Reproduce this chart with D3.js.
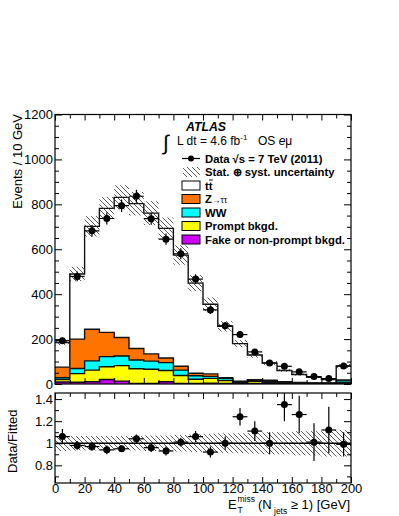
<!DOCTYPE html>
<html>
<head>
<meta charset="utf-8">
<script src="https://cdn.jsdelivr.net/npm/d3@7"></script>
<style>
  body { margin: 0; background: #fff; }
  svg text { font-family: "Liberation Sans", Arial, Helvetica, sans-serif; }
</style>
</head>
<body>
<div id="content"></div>
<script>
// bins of 10 GeV, last bin holds overflow
const binEdges = [0, 10, 20, 30, 40, 50, 60, 70, 80, 90, 100, 110, 120, 130, 140, 150, 160, 170, 180, 190, 200];

// stacked MC contributions per bin (events / 10 GeV)
const ttbar  = [110, 290, 458, 552, 624, 645, 627, 577, 495, 401, 310, 229, 167, 110, 76, 50, 35, 25, 15, 62];
const ztautau = [47, 131, 141, 108, 82, 51, 32, 21, 17, 11, 11, 4, 3, 4, 5, 2, 2, 1, 1, 4];
const ww     = [8, 23, 41, 45, 43, 39, 36, 35, 24, 16, 9, 9, 4, 3, 4, 3, 2, 2, 2, 8];
const prompt = [11, 38, 52, 57, 69, 66, 63, 50, 36, 19, 21, 13, 5, 10, 7, 4, 2, 2, 2, 5];
const fake   = [9, 8, 10, 20, 13, 2, 3, 10, 2, 2, 4, 2, 1, 2, 1, 1, 1, 0, 0, 1];

// data
const dataVals = [193, 479, 682, 737, 794, 836, 736, 645, 580, 467, 330, 259, 220, 143, 94, 79, 54, 33, 24, 80];
const dataErr  = [14, 22, 26, 27, 28, 29, 27, 25, 24, 22, 18, 16, 15, 12, 10, 9, 7, 6, 5, 9];

// relative stat+syst uncertainty on the total
const relUnc = [0.07, 0.065, 0.065, 0.065, 0.065, 0.065, 0.07, 0.07, 0.075, 0.08, 0.085, 0.09, 0.09, 0.095, 0.1, 0.1, 0.11, 0.11, 0.12, 0.12];

// data / fitted
const ratioVals = [1.06, 0.98, 0.97, 0.94, 0.95, 1.04, 0.96, 0.93, 1.01, 1.06, 0.92, 1.00, 1.24, 1.11, 1.00, 1.35, 1.26, 1.01, 1.12, 0.99];
const ratioErr  = [0.07, 0.04, 0.04, 0.04, 0.03, 0.04, 0.04, 0.04, 0.04, 0.05, 0.05, 0.06, 0.08, 0.09, 0.10, 0.15, 0.17, 0.17, 0.21, 0.11];

const xTicks = [0, 20, 40, 60, 80, 100, 120, 140, 160, 180, 200];
const xMinor = [10, 30, 50, 70, 90, 110, 130, 150, 170, 190];
const yTicks = [0, 200, 400, 600, 800, 1000, 1200];
const yMinor = [50, 100, 150, 250, 300, 350, 450, 500, 550, 650, 700, 750, 850, 900, 950, 1050, 1100, 1150];
const rTicks = [0.8, 1, 1.2, 1.4];
const rMinor = [0.7, 0.9, 1.1, 1.3];

const keys = ['fake', 'prompt', 'ww', 'ztautau', 'ttbar'];
const colors = {ttbar: '#ffffff', ztautau: '#ff7300', ww: '#00ffff', prompt: '#ffff00', fake: '#cc00ff'};

const table = dataVals.map((d, i) => ({
    lo: binEdges[i], hi: binEdges[i + 1],
    ttbar: ttbar[i], ztautau: ztautau[i], ww: ww[i], prompt: prompt[i], fake: fake[i],
    data: d, err: dataErr[i], unc: relUnc[i], ratio: ratioVals[i], rerr: ratioErr[i]
}));

const width = 399;
const height = 516;
const left = 55, right = 351;
const topY0 = 114.5, topY1 = 384;
const rY0 = 393, rY1 = 483;

const fig = d3.select('#content')
    .append('svg')
    .attr('width', width)
    .attr('height', height);

const defs = fig.append('defs');
const hatch = defs.append('pattern')
    .attr('id', 'hatch')
    .attr('patternUnits', 'userSpaceOnUse')
    .attr('width', 5)
    .attr('height', 5);
hatch.append('path')
    .attr('d', 'M0,0L5,5M-1,4L1,6M4,-1L6,1')
    .attr('stroke', '#333')
    .attr('stroke-width', 0.8);

defs.append('clipPath').attr('id', 'clipTop')
    .append('rect').attr('x', left).attr('y', topY0).attr('width', right - left).attr('height', topY1 - topY0);
defs.append('clipPath').attr('id', 'clipRatio')
    .append('rect').attr('x', left).attr('y', rY0).attr('width', right - left).attr('height', rY1 - rY0);

const x = d3.scaleLinear().domain([0, 200]).range([left, right]);
const y = d3.scaleLinear().domain([0, 1200]).range([topY1, topY0]);
const yr = d3.scaleLinear().domain([0.64, 1.455]).range([rY1, rY0]);

const stack = d3.stack().keys(keys)(table);

// step helpers
const stepPts = (vals) => vals.flatMap((v, i) => [[binEdges[i], v], [binEdges[i + 1], v]]);
const stepLine = d3.line().x(d => x(d[0])).y(d => y(d[1]));

// ---- top panel ----
const mainG = fig.append('g').attr('clip-path', 'url(#clipTop)');

// draw from the biggest cumulative down so each layer sits on the one below
for (let k = stack.length - 1; k >= 0; k--) {
    const layer = stack[k];
    const tops = layer.map(d => d[1]);
    const area = d3.area()
        .x(d => x(d[0]))
        .y0(y(0))
        .y1(d => y(d[1]));
    mainG.append('path')
        .attr('d', area(stepPts(tops)))
        .attr('fill', colors[layer.key]);
    mainG.append('path')
        .attr('d', stepLine(stepPts(tops)))
        .attr('fill', 'none')
        .attr('stroke', '#111')
        .attr('stroke-width', 1.4);
}

const totals = stack[stack.length - 1].map(d => d[1]);

// uncertainty band
mainG.append('g')
    .selectAll('rect')
    .data(table)
    .join('rect')
    .attr('x', d => x(d.lo))
    .attr('width', d => x(d.hi) - x(d.lo))
    .attr('y', (d, i) => y(totals[i] * (1 + d.unc)))
    .attr('height', (d, i) => y(totals[i] * (1 - d.unc)) - y(totals[i] * (1 + d.unc)))
    .attr('fill', 'url(#hatch)');

// data points
const pts = mainG.append('g');
pts.selectAll('.h')
    .data(table)
    .join('line')
    .attr('x1', d => x(d.lo)).attr('x2', d => x(d.hi))
    .attr('y1', d => y(d.data)).attr('y2', d => y(d.data))
    .attr('stroke', '#000').attr('stroke-width', 1.2);
pts.selectAll('.v')
    .data(table)
    .join('line')
    .attr('x1', d => x((d.lo + d.hi) / 2)).attr('x2', d => x((d.lo + d.hi) / 2))
    .attr('y1', d => y(d.data - d.err)).attr('y2', d => y(d.data + d.err))
    .attr('stroke', '#000').attr('stroke-width', 1.2);
pts.selectAll('circle')
    .data(table)
    .join('circle')
    .attr('cx', d => x((d.lo + d.hi) / 2))
    .attr('cy', d => y(d.data))
    .attr('r', 3.5)
    .attr('fill', '#000');

// ---- ratio panel ----
const rat = fig.append('g').attr('clip-path', 'url(#clipRatio)');
rat.append('g')
    .selectAll('rect')
    .data(table)
    .join('rect')
    .attr('x', d => x(d.lo))
    .attr('width', d => x(d.hi) - x(d.lo))
    .attr('y', d => yr(1 + d.unc))
    .attr('height', d => yr(1 - d.unc) - yr(1 + d.unc))
    .attr('fill', 'url(#hatch)');
rat.append('line')
    .attr('x1', left).attr('x2', right)
    .attr('y1', yr(1)).attr('y2', yr(1))
    .attr('stroke', '#000').attr('stroke-width', 1.6);
rat.selectAll('.h')
    .data(table)
    .join('line')
    .attr('x1', d => x(d.lo)).attr('x2', d => x(d.hi))
    .attr('y1', d => yr(d.ratio)).attr('y2', d => yr(d.ratio))
    .attr('stroke', '#000').attr('stroke-width', 1.2);
rat.selectAll('.v')
    .data(table)
    .join('line')
    .attr('x1', d => x((d.lo + d.hi) / 2)).attr('x2', d => x((d.lo + d.hi) / 2))
    .attr('y1', d => yr(d.ratio - d.rerr)).attr('y2', d => yr(d.ratio + d.rerr))
    .attr('stroke', '#000').attr('stroke-width', 1.2);
rat.selectAll('circle')
    .data(table)
    .join('circle')
    .attr('cx', d => x((d.lo + d.hi) / 2))
    .attr('cy', d => yr(d.ratio))
    .attr('r', 3.5)
    .attr('fill', '#000');

// ---- axes (ticks pointing inward on all sides) ----
function addAxis(axisFn, scale, ticks, size, pos, labels, fmt, pad) {
    const a = axisFn(scale).tickValues(ticks).tickSizeInner(-size).tickSizeOuter(0)
        .tickPadding(pad === undefined ? 3 : pad);
    if (!labels) a.tickFormat('');
    else if (fmt) a.tickFormat(fmt);
    const g = fig.append('g').attr('transform', pos).call(a);
    g.select('.domain').remove();
    g.selectAll('line').attr('stroke', '#000').attr('stroke-width', 1);
    g.selectAll('text').attr('font-size', 13).attr('fill', '#000')
        .style('font-family', '"Liberation Sans", Arial, sans-serif');
    return g;
}

// top panel
addAxis(d3.axisLeft, y, yTicks, 7, `translate(${left},0)`, true, d3.format('d'), 2);
addAxis(d3.axisLeft, y, yMinor, 4, `translate(${left},0)`, false);
addAxis(d3.axisRight, y, yTicks, 7, `translate(${right},0)`, false);
addAxis(d3.axisRight, y, yMinor, 4, `translate(${right},0)`, false);
addAxis(d3.axisBottom, x, xTicks, 6, `translate(0,${topY1})`, false);
addAxis(d3.axisBottom, x, xMinor, 4, `translate(0,${topY1})`, false);
addAxis(d3.axisTop, x, xTicks, 6, `translate(0,${topY0})`, false);
addAxis(d3.axisTop, x, xMinor, 4, `translate(0,${topY0})`, false);

// ratio panel
addAxis(d3.axisLeft, yr, rTicks, 7, `translate(${left},0)`, true, d => d === 1 ? '1' : d.toFixed(1), 2);
addAxis(d3.axisLeft, yr, rMinor, 4, `translate(${left},0)`, false);
addAxis(d3.axisRight, yr, rTicks, 7, `translate(${right},0)`, false);
addAxis(d3.axisRight, yr, rMinor, 4, `translate(${right},0)`, false);
addAxis(d3.axisBottom, x, xTicks, 6, `translate(0,${rY1})`, true, d3.format('d'), 0.5);
addAxis(d3.axisBottom, x, xMinor, 4, `translate(0,${rY1})`, false);
addAxis(d3.axisTop, x, xTicks, 6, `translate(0,${rY0})`, false);
addAxis(d3.axisTop, x, xMinor, 4, `translate(0,${rY0})`, false);

// frames
fig.append('rect')
    .attr('x', left).attr('y', topY0)
    .attr('width', right - left).attr('height', topY1 - topY0)
    .attr('fill', 'none').attr('stroke', '#000').attr('stroke-width', 1.2);
fig.append('rect')
    .attr('x', left).attr('y', rY0)
    .attr('width', right - left).attr('height', rY1 - rY0)
    .attr('fill', 'none').attr('stroke', '#000').attr('stroke-width', 1.2);

// axis titles
fig.append('text')
    .attr('transform', 'translate(22,114) rotate(-90)')
    .attr('text-anchor', 'end')
    .attr('font-size', 13)
    .text('Events / 10 GeV');
fig.append('text')
    .attr('transform', 'translate(17,473) rotate(-90)')
    .attr('text-anchor', 'start')
    .attr('font-size', 13)
    .text('Data/Fitted');

const xt = fig.append('g').attr('font-size', 13);
xt.append('text').attr('x', 228).attr('y', 509).text('E');
xt.append('text').attr('x', 237.5).attr('y', 502).attr('font-size', 8.5).text('miss');
xt.append('text').attr('x', 237.5).attr('y', 513).attr('font-size', 8.5).text('T');
xt.append('text').attr('x', 258).attr('y', 509).text('(N');
xt.append('text').attr('x', 274).attr('y', 514).attr('font-size', 8.5).text('jets');
xt.append('text').attr('x', 350).attr('y', 509).attr('text-anchor', 'end').text('\u2265 1) [GeV]');

// ---- labels and legend ----
fig.append('text')
    .attr('x', 186).attr('y', 131)
    .attr('font-size', 12.3).attr('font-weight', 'bold').attr('font-style', 'italic')
    .text('ATLAS');
fig.append('text')
    .attr('x', 163).attr('y', 150)
    .attr('font-size', 21).attr('font-weight', 'normal')
    .text('\u222B');
fig.append('text')
    .attr('x', 177).attr('y', 145)
    .attr('font-size', 12)
    .html('L dt = 4.6 fb<tspan dy="-5" font-size="8">-1</tspan>');
fig.append('text')
    .attr('x', 258).attr('y', 145)
    .attr('font-size', 12)
    .html('OS <tspan font-style="italic">e</tspan>\u03BC');

const legendItems = [
    {label: 'Data  \u221As = 7 TeV (2011)', type: 'data'},
    {label: 'Stat. \u2295 syst. uncertainty', type: 'hatch'},
    {label: 'tt', type: 'box', key: 'ttbar'},
    {label: 'Z', type: 'box', key: 'ztautau'},
    {label: 'WW', type: 'box', key: 'ww'},
    {label: 'Prompt bkgd.', type: 'box', key: 'prompt'},
    {label: 'Fake or non-prompt bkgd.', type: 'box', key: 'fake'}
];
const legY0 = 158.5, legStep = 13.5;
const leg = fig.append('g');
legendItems.forEach((d, i) => {
    const cy = legY0 + i * legStep;
    if (d.type === 'data') {
        leg.append('line').attr('x1', 182).attr('x2', 200).attr('y1', cy).attr('y2', cy)
            .attr('stroke', '#000').attr('stroke-width', 1.2);
        leg.append('circle').attr('cx', 191).attr('cy', cy).attr('r', 3).attr('fill', '#000');
    } else if (d.type === 'hatch') {
        leg.append('rect').attr('x', 183).attr('y', cy - 5).attr('width', 17).attr('height', 10)
            .attr('fill', 'url(#hatch)');
    } else {
        leg.append('rect').attr('x', 182).attr('y', cy - 4.5).attr('width', 18).attr('height', 9)
            .attr('fill', colors[d.key]).attr('stroke', '#000').attr('stroke-width', 1);
    }
    const t = leg.append('text')
        .attr('x', 205).attr('y', cy + 4)
        .attr('font-size', 11.3).attr('font-weight', 'bold');
    if (d.key === 'ztautau') {
        t.html('Z<tspan font-weight="normal" font-size="8.5">\u2192\u03C4\u03C4</tspan>');
    } else {
        t.text(d.label);
    }
    if (d.key === 'ttbar') {
        // bar over the second t
        leg.append('line').attr('x1', 209).attr('x2', 212.8)
            .attr('y1', cy - 5.5).attr('y2', cy - 5.5)
            .attr('stroke', '#000').attr('stroke-width', 1);
    }
});
</script>
</body>
</html>
